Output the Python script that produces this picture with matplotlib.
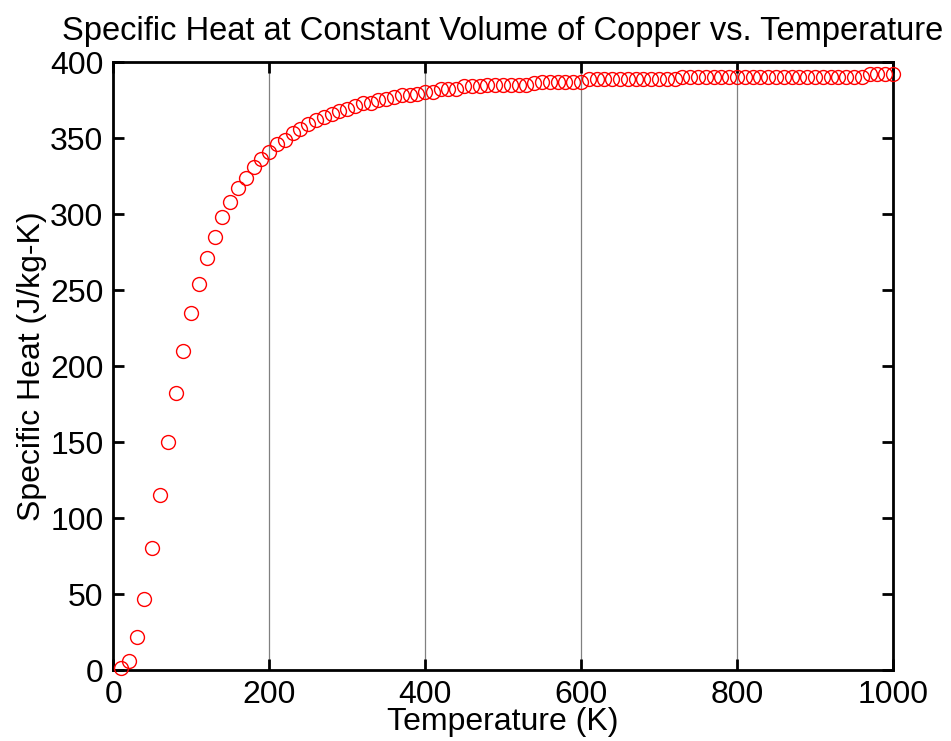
import numpy as np
import matplotlib
matplotlib.use("Agg")
import matplotlib.pyplot as plt

plt.rcParams['font.family'] = ['Liberation Sans', 'DejaVu Sans']

# temperature (K) and specific heat (J/kg-K)
temperature = list(range(10, 1001, 10))
specific_heat = [
    1, 6, 22, 47, 80, 115, 150, 182, 210, 235,
    254, 271, 285, 298, 308, 317, 324, 331, 336, 341,
    346, 349, 353, 356, 359, 362, 364, 366, 368, 369,
    371, 373, 373, 375, 376, 377, 378, 378, 379, 380,
    380, 382, 382, 382, 384, 384, 384, 385, 385, 385,
    385, 385, 385, 386, 387, 387, 387, 387, 387, 387,
    389, 389, 389, 389, 389, 389, 389, 389, 389, 389,
    389, 389, 390, 390, 390, 390, 390, 390, 390, 390,
    390, 390, 390, 390, 390, 390, 390, 390, 390, 390,
    390, 390, 390, 390, 390, 390, 392, 392, 392, 392,
]

title = "Specific Heat at Constant Volume of Copper vs. Temperature"
xlabel = "Temperature (K)"
ylabel = "Specific Heat (J/kg-K)"

fig = plt.figure(figsize=(9.51, 7.41), dpi=100)
ax = fig.add_axes([0.119, 0.0958, 0.820, 0.8205])

ax.plot(temperature, specific_heat, 'o', mfc='none', mec='#ff0000',
        ms=10, mew=1.0, clip_on=False, zorder=3)

ax.set_xlim(0, 1000)
ax.set_ylim(0, 400)
ax.set_xticks([0, 200, 400, 600, 800, 1000])
ax.set_yticks(range(0, 401, 50))
ax.xaxis.grid(True, color='#808080', lw=0.9)
ax.set_axisbelow(True)

ax.tick_params(direction='in', length=8, width=2, labelsize=23,
               top=True, right=True, pad=7)
for s in ax.spines.values():
    s.set_linewidth(2)

ax.set_title(title, fontsize=23.5, pad=16)
ax.set_xlabel(xlabel, fontsize=23, labelpad=-2)
ax.set_ylabel(ylabel, fontsize=23, labelpad=2)

plt.savefig("out.png", dpi=100)
